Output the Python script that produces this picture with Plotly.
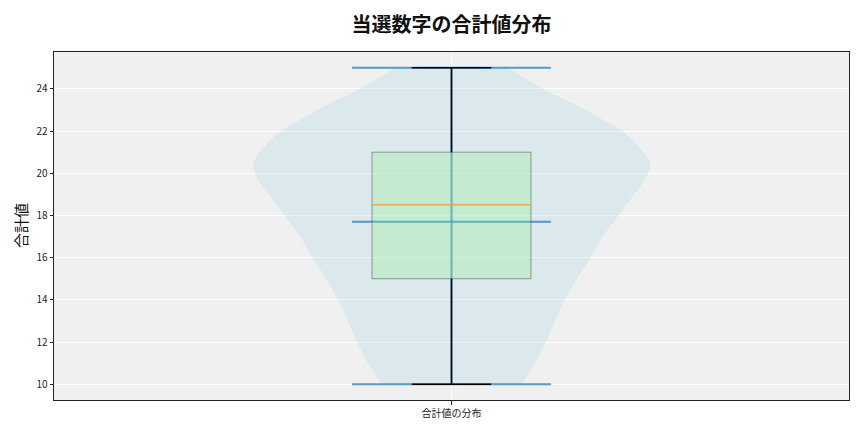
import plotly.graph_objects as go

# ---- data ----
category = ["合計値の分布"]
position = 1.0
# violin outline: value levels and relative half-width (1 = widest)
violin_y = [10, 11, 12, 13, 14, 15, 16, 17, 18, 19, 19.5, 20, 20.5, 21, 21.5, 22, 22.5, 23, 23.5, 24, 24.5, 25]
violin_w = [0.355, 0.42, 0.475, 0.52, 0.57, 0.63, 0.70, 0.76, 0.84, 0.92, 0.96, 0.99, 1.0, 0.965, 0.92, 0.86, 0.77, 0.675, 0.57, 0.46, 0.37, 0.28]
vmin, vmax, vmean = 10, 25, 17.7
q1, median, q3 = 15, 18.5, 21
whisk_lo, whisk_hi = 10, 25
y_ticks = [10, 12, 14, 16, 18, 20, 22, 24]

FONT = "Noto Sans CJK JP"
violin_half = 0.25
box_half = 0.10
cap_half = 0.05
line_half = 0.125

fig = go.Figure()

# violin body
vx = [position + w * violin_half for w in violin_w] + [position - w * violin_half for w in violin_w[::-1]]
vy = violin_y + violin_y[::-1]
fig.add_trace(go.Scatter(x=vx, y=vy, mode="lines", fill="toself",
                         fillcolor="rgba(173,216,230,0.3)", line=dict(width=0, shape="spline", smoothing=0.3),
                         hoverinfo="skip", showlegend=False))

vcol = "rgba(31,119,180,0.72)"
# violin central bar
fig.add_trace(go.Scatter(x=[position, position], y=[vmin, vmax], mode="lines",
                         line=dict(color=vcol, width=2), showlegend=False, hoverinfo="skip"))
# extrema and mean lines
for val in (vmin, vmax, vmean):
    fig.add_trace(go.Scatter(x=[position - line_half, position + line_half], y=[val, val], mode="lines",
                             line=dict(color=vcol, width=2), showlegend=False, hoverinfo="skip"))

# box
bx = [position - box_half, position + box_half, position + box_half, position - box_half, position - box_half]
by = [q1, q1, q3, q3, q1]
fig.add_trace(go.Scatter(x=bx, y=by, mode="lines", fill="toself",
                         fillcolor="rgba(144,238,144,0.3)", line=dict(color="rgba(0,0,0,0.35)", width=1),
                         showlegend=False, hoverinfo="skip"))
# whiskers
for a, b in ((q1, whisk_lo), (q3, whisk_hi)):
    fig.add_trace(go.Scatter(x=[position, position], y=[a, b], mode="lines",
                             line=dict(color="black", width=1.5), showlegend=False, hoverinfo="skip"))
# caps
for val in (whisk_lo, whisk_hi):
    fig.add_trace(go.Scatter(x=[position - cap_half, position + cap_half], y=[val, val], mode="lines",
                             line=dict(color="black", width=1.5), showlegend=False, hoverinfo="skip"))
# median
fig.add_trace(go.Scatter(x=[position - box_half, position + box_half], y=[median, median], mode="lines",
                         line=dict(color="#f39c3c", width=1.2), showlegend=False, hoverinfo="skip"))

fig.update_layout(
    width=864, height=432,
    margin=dict(l=54, r=15, t=52, b=32),
    paper_bgcolor="white", plot_bgcolor="#f0f0f0",
    font=dict(family=FONT, color="#222222", size=10),
    title=dict(text="<b>当選数字の合計値分布</b>", x=0.5, xref="paper", y=1 - 25 / 432, yref="container",
               xanchor="center", yanchor="middle", font=dict(family=FONT, size=20, color="#111111")),
    showlegend=False,
    annotations=[dict(text="合計値", textangle=-90, x=0, xref="paper", y=0.5, yref="paper",
                      xanchor="center", yanchor="middle", xshift=-34, showarrow=False,
                      font=dict(family=FONT, size=15, color="#111111"))],
)
fig.update_xaxes(range=[0.5, 1.5], tickvals=[position], ticktext=category,
                 showgrid=True, gridcolor="white", gridwidth=1, zeroline=False,
                 showline=True, linecolor="#222222", linewidth=1, mirror=True,
                 ticks="outside", ticklen=3.5, tickcolor="#222222")
fig.update_yaxes(range=[9.25, 25.75], tickvals=y_ticks,
                 showgrid=True, gridcolor="white", gridwidth=1, zeroline=False,
                 showline=True, linecolor="#222222", linewidth=1, mirror=True,
                 ticks="outside", ticklen=3.5, tickcolor="#222222")

fig.write_html("out.html", config={"displayModeBar": False})

# remove the browser's default page margin so the figure sits at the window origin
with open("out.html", "r", encoding="utf-8") as f:
    html = f.read()
html = html.replace("<head>", "<head><style>html,body{margin:0;padding:0;overflow:hidden;}</style>", 1)
with open("out.html", "w", encoding="utf-8") as f:
    f.write(html)
